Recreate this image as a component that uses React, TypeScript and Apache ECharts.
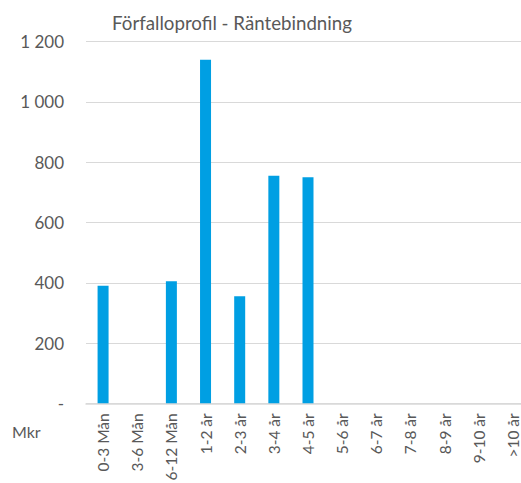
import React, { useEffect, useRef } from "react";
import * as echarts from "echarts";

const categories = ["0-3 Mån", "3-6 Mån", "6-12 Mån", "1-2 år", "2-3 år", "3-4 år", "4-5 år", "5-6 år", "6-7 år", "7-8 år", "8-9 år", "9-10 år", ">10 år"];
const values = [390, 0, 405, 1140, 355, 755, 750, 0, 0, 0, 0, 0, 0];
const title = "Förfalloprofil - Räntebindning";
const unitLabel = "Mkr";

const font = "Lato, 'Open Sans', sans-serif";
const textColor = "#595959";

export default function App() {
  const ref = useRef<HTMLDivElement>(null);
  useEffect(() => {
    if (!ref.current) return;
    const chart = echarts.init(ref.current, undefined, { renderer: "svg" });
    chart.setOption({
      animation: false,
      backgroundColor: "#ffffff",
      textStyle: { fontFamily: font },
      title: {
        text: title,
        left: 227,
        top: 8,
        textAlign: "center",
        textStyle: { fontFamily: font, fontSize: 18.7, fontWeight: "normal", color: textColor },
      },
      graphic: [
        {
          type: "text",
          left: 12,
          top: 423,
          style: { text: unitLabel, fontFamily: font, fontSize: 16, fill: textColor },
        },
      ],
      grid: {
        left: 86,
        right: 0,
        top: 41.7,
        bottom: 79.7,
        containLabel: false,
        outerBoundsMode: "none",
      },
      xAxis: {
        type: "category",
        data: categories,
        axisLine: { show: true, lineStyle: { color: "#d9d9d9", width: 1.5 } },
        axisTick: { show: false },
        axisLabel: {
          rotate: 90,
          interval: 0,
          margin: 10,
          color: textColor,
          fontFamily: font,
          fontSize: 15.5,
          lineHeight: 14,
        },
      },
      yAxis: {
        type: "value",
        min: 0,
        max: 1200,
        interval: 200,
        axisLine: { show: false },
        axisTick: { show: false },
        splitLine: { lineStyle: { color: "#d9d9d9", width: 1 } },
        axisLabel: {
          margin: 22,
          color: textColor,
          fontFamily: font,
          fontSize: 17,
          formatter: (v: number) => (v === 0 ? "-" : String(v).replace(/\B(?=(\d{3})+(?!\d))/g, " ")),
        },
      },
      series: [
        {
          type: "bar",
          data: values,
          barWidth: 11,
          itemStyle: { color: "#009FE3" },
        },
      ],
    });
    return () => chart.dispose();
  }, []);
  return <div ref={ref} style={{ position: "fixed", left: 0, top: 0, width: 530, height: 483 }} />;
}
